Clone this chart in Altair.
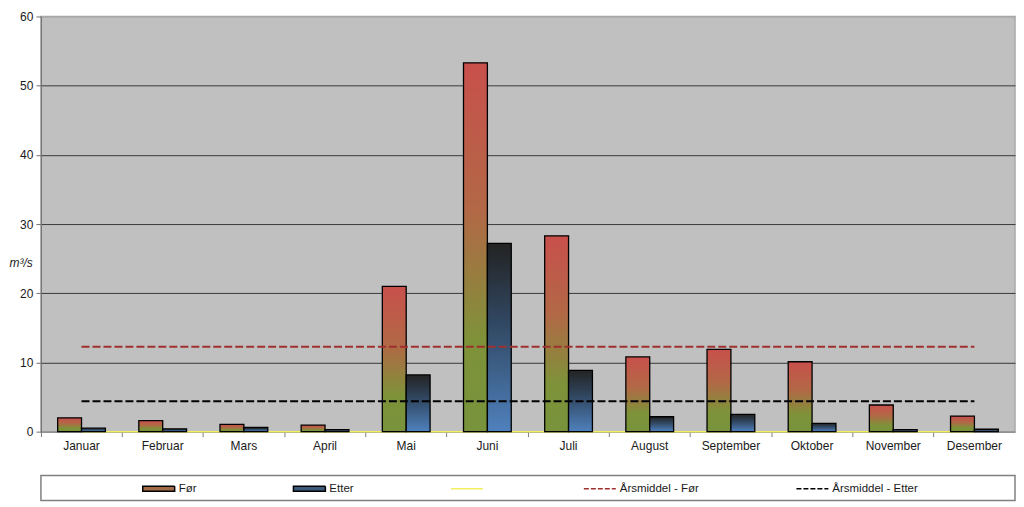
import altair as alt
import pandas as pd

# ---------------- data ----------------
months = ["Januar", "Februar", "Mars", "April", "Mai", "Juni", "Juli",
          "August", "September", "Oktober", "November", "Desember"]
for_values = [2.0, 1.6, 1.05, 0.95, 21.0, 53.3, 28.3, 10.8, 11.9, 10.1, 3.85, 2.25]
etter_values = [0.5, 0.4, 0.6, 0.3, 8.2, 27.2, 8.85, 2.15, 2.5, 1.2, 0.3, 0.35]
zero_series = [0, 0, 0, 0, 0, 0, 0, 0, 0, 0, 0, 0]
series_names = ["Før", "Etter"]
legend_entries = ["Før", "Etter", " ", "Årsmiddel - Før", "Årsmiddel - Etter"]
y_ticks = [0, 10, 20, 30, 40, 50, 60]

# ---------------- tables ----------------
rows = []
for m, f, e in zip(months, for_values, etter_values):
    rows.append({"month": m, "series": "Før", "value": f})
    rows.append({"month": m, "series": "Etter", "value": e})
long_df = pd.DataFrame(rows)
zero_df = pd.DataFrame({"month": months, "value": zero_series})
legend_df = pd.DataFrame({"entry": legend_entries})

FONT = "Liberation Sans"
PLOT_W = 976
PLOT_H = 416

x_scale = alt.Scale(domain=months, paddingInner=0, paddingOuter=0)
x_axis = alt.Axis(title=None, labelAngle=0, bandPosition=0,
                  domainColor="#808080", tickColor="#808080", tickSize=5,
                  labelFont=FONT, labelFontSize=12, labelColor="#1a1a1a", labelPadding=4,
                  grid=False)
x_enc = alt.X("month:N", sort=months, scale=x_scale, axis=x_axis)

y_scale = alt.Scale(domain=[0, 60], nice=False, zero=True)
y_axis = alt.Axis(values=y_ticks, title="m³/s", titleAngle=0, titleFontStyle="italic",
                  titleFontWeight="normal", titleFont=FONT, titleFontSize=12,
                  titleColor="#1a1a1a", titleX=-32, titleY=247, titleAlign="left",
                  titleBaseline="middle",
                  labelFont=FONT, labelFontSize=12, labelColor="#1a1a1a", labelPadding=3,
                  domainColor="#707070", tickColor="#707070", tickSize=5,
                  grid=True,
                  gridColor={"condition": {"test": "datum.value === 60 || datum.value === 0",
                                           "value": "#a8a8a8"}, "value": "#3a3a3a"},
                  gridWidth=1)

xoff = alt.XOffset("series:N", scale=alt.Scale(domain=series_names, paddingOuter=0.7,
                                               paddingInner=0))

grad_for = alt.Gradient(gradient="linear", x1=0, x2=0, y1=0, y2=1, stops=[
    alt.GradientStop(offset=0, color="#c8504c"),
    alt.GradientStop(offset=0.4, color="#b26846"),
    alt.GradientStop(offset=0.75, color="#7e9239"),
    alt.GradientStop(offset=1, color="#77933c")])
grad_etter = alt.Gradient(gradient="linear", x1=0, x2=0, y1=0, y2=1, stops=[
    alt.GradientStop(offset=0, color="#232323"),
    alt.GradientStop(offset=0.45, color="#324a66"),
    alt.GradientStop(offset=1, color="#4f81bd")])

base = alt.Chart(long_df)

bars_for = base.transform_filter(alt.datum.series == "Før").mark_bar(
    fill=grad_for, stroke="black", strokeWidth=1.3
).encode(x=x_enc, xOffset=xoff, y=alt.Y("value:Q", scale=y_scale, axis=y_axis))

bars_etter = base.transform_filter(alt.datum.series == "Etter").mark_bar(
    fill=grad_etter, stroke="black", strokeWidth=1.3
).encode(x=x_enc, xOffset=xoff, y=alt.Y("value:Q", scale=y_scale, axis=y_axis))

zero_line = alt.Chart(zero_df).mark_line(color="#f2f060", strokeWidth=1.5).encode(
    x=x_enc, y=alt.Y("value:Q", scale=y_scale, axis=y_axis))

mean_for = base.transform_filter(alt.datum.series == "Før").transform_joinaggregate(
    mean_value="mean(value)"
).mark_line(color="#a0302f", strokeWidth=2, strokeDash=[8, 3]).encode(
    x=x_enc, y=alt.Y("mean_value:Q", scale=y_scale, axis=y_axis))

mean_etter = base.transform_filter(alt.datum.series == "Etter").transform_joinaggregate(
    mean_value="mean(value)"
).mark_line(color="black", strokeWidth=2, strokeDash=[8, 3]).encode(
    x=x_enc, y=alt.Y("mean_value:Q", scale=y_scale, axis=y_axis))

main = alt.layer(zero_line, bars_for, bars_etter, mean_for, mean_etter).properties(
    width=PLOT_W, height=PLOT_H,
    view=alt.ViewBackground(fill="#c0c0c0", stroke="#a8a8a8", strokeWidth=1.5))

# ---------------- legend panel ----------------
rect_path = "M-1,-0.16H1V0.16H-1Z"
leg = alt.Legend(title=None, orient="none", legendX=101, legendY=-4, direction="horizontal",
                 columns=5, columnPadding=94, symbolSize=1024, symbolStrokeWidth=1.5,
                 labelFont=FONT, labelFontSize=11.5, labelColor="#1a1a1a", labelOffset=3,
                 padding=0)

legend_layer = alt.Chart(legend_df).transform_filter("false").mark_point(
    opacity=1, filled=False
).encode(
    fill=alt.Fill("entry:N", sort=legend_entries, legend=leg,
                  scale=alt.Scale(domain=legend_entries,
                                  range=["#a26c48", "#3c5a7a", "transparent", "transparent", "transparent"])),
    stroke=alt.Stroke("entry:N", sort=legend_entries, legend=leg,
                      scale=alt.Scale(domain=legend_entries,
                                      range=["black", "black", "#f2f060", "#a0302f", "black"])),
    shape=alt.Shape("entry:N", sort=legend_entries, legend=leg,
                    scale=alt.Scale(domain=legend_entries,
                                    range=[rect_path, rect_path, "stroke", "stroke", "stroke"])),
    strokeDash=alt.StrokeDash("entry:N", sort=legend_entries, legend=leg,
                              scale=alt.Scale(domain=legend_entries,
                                              range=[[1, 0], [1, 0], [1, 0], [5, 2], [5, 2]])),
)

legend_panel = alt.layer(legend_layer).properties(
    width=PLOT_W, height=25,
    view=alt.ViewBackground(fill="white", stroke="#808080", strokeWidth=1.5))

chart = alt.vconcat(main, legend_panel, spacing=18).resolve_legend(
    fill="independent", stroke="independent", shape="independent", strokeDash="independent"
).properties(
    padding={"left": 0, "top": 1, "right": 0, "bottom": 0}
).configure(background="white")

chart.save("out.html", embed_options={"renderer": "svg", "actions": False})
